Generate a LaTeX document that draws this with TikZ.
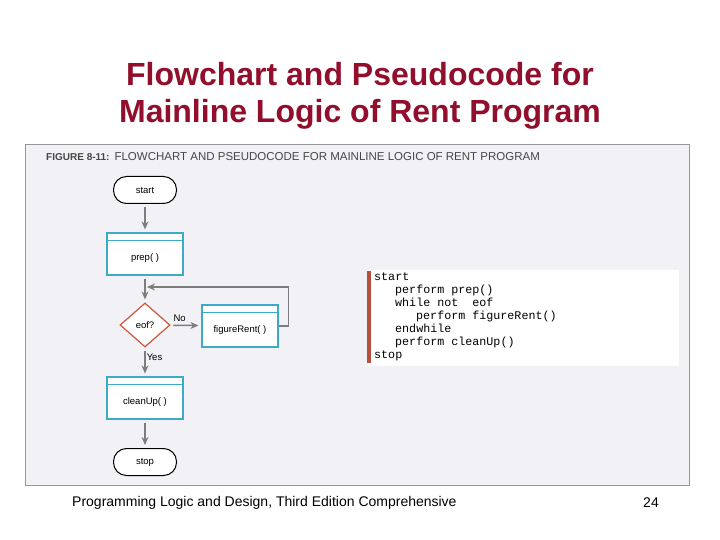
\documentclass[tikz,border=0pt]{standalone}
\usepackage{fontspec}
\setmainfont{Liberation Sans}
\setmonofont{Liberation Mono}
\usetikzlibrary{shapes.geometric,arrows.meta}

\definecolor{titlered}{RGB}{145,14,44}
\definecolor{boxcyan}{RGB}{60,170,200}
\definecolor{diared}{RGB}{205,85,60}
\definecolor{flowgray}{RGB}{125,125,125}
\definecolor{panelbg}{RGB}{242,242,246}
\definecolor{panelline}{RGB}{150,150,150}
\definecolor{barred}{RGB}{180,80,60}
\definecolor{captext}{RGB}{70,70,70}

\tikzset{
  terminal/.style={draw=black, line width=1pt, rounded corners=13pt, fill=white,
    minimum width=63pt, minimum height=27pt, font=\fontsize{9.5}{10}\selectfont},
  process/.style={draw=boxcyan, line width=1.2pt, fill=white,
    minimum width=76pt, minimum height=42pt, text height=12pt, text depth=0pt,
    font=\fontsize{9.5}{10}\selectfont,
    path picture={\draw[boxcyan, line width=1pt]
      ([yshift=-7pt]path picture bounding box.north west) --
      ([yshift=-7pt]path picture bounding box.north east);}},
  decision/.style={diamond, draw=diared, line width=1.2pt, fill=white, inner sep=0pt,
    minimum width=50pt, minimum height=44pt, font=\fontsize{9.5}{10}\selectfont},
  flow/.style={draw=flowgray, line width=1.5pt, -{Stealth[length=8pt,width=7pt]},
    shorten <=3pt, shorten >=3pt},
  flowlabel/.style={font=\fontsize{9.5}{10}\selectfont}
}

\begin{document}
\begin{tikzpicture}[x=1pt, y=-1pt]

    % Cadre
    \useasboundingbox (0,0) rectangle (720,540);
    \fill[white] (0,0) rectangle (720,540);

    % Titre
    \node[titlered, align=center, font=\bfseries\fontsize{32}{37}\selectfont] (title)
        at (360,96) {Flowchart and Pseudocode for\\Mainline Logic of Rent Program};

    % Figure
    \draw[panelline, line width=1pt, fill=panelbg] (25,145) rectangle (689,485);
    \node[anchor=west, inner sep=0pt, captext] (caption) at (46,157)
        {{\bfseries\fontsize{10}{12}\selectfont FIGURE 8-11:}\hspace{5pt}{\fontsize{11.5}{12}\selectfont FLOWCHART AND PSEUDOCODE FOR MAINLINE LOGIC OF RENT PROGRAM}};

    % Organigramme
    \node[terminal] (start) at (145,190) {start};
    \node[process] (prep) at (145,254) {prep( )};
    \node[decision] (eof) at (145,325) {eof?};
    \node[process] (rent) at (240,326) {figureRent( )};
    \node[process] (clean) at (145,398) {cleanUp( )};
    \node[terminal] (stop) at (145,462) {stop};
    \coordinate (join) at (145,287);

    % Flèches
    \draw[flow] (start) -- (prep);
    \draw[flow] (prep) -- (eof);
    \draw[flow] (eof) -- node[flowlabel, above, pos=0.3] {No} (rent);
    \draw[flow, shorten <=0pt, shorten >=0pt] (rent.east) -- ++(10,0) |- ([xshift=2pt]join);
    \draw[flow] (eof) -- node[flowlabel, right, pos=0.35, inner sep=1pt] {Yes} (clean);
    \draw[flow] (clean) -- (stop);

    % Pseudocode
    \fill[white] (367,270) rectangle (679,366);
    \fill[barred] (367,271) rectangle (371,363);
    \node[anchor=north west, align=left, inner sep=0pt, font=\ttfamily\fontsize{11.7}{13}\selectfont] (code) at (374,273)
        {start\\
         \hspace*{21pt}perform prep()\\
         \hspace*{21pt}while not\ \ eof\\
         \hspace*{42pt}perform figureRent()\\
         \hspace*{21pt}endwhile\\
         \hspace*{21pt}perform cleanUp()\\
         stop};

    % Pied de page
    \node[anchor=west, inner sep=0pt, font=\fontsize{14}{16}\selectfont] (footer) at (72,503)
        {Programming Logic and Design, Third Edition Comprehensive};
    \node[font=\fontsize{14}{16}\selectfont] (page) at (651,503) {24};

\end{tikzpicture}
\end{document}
